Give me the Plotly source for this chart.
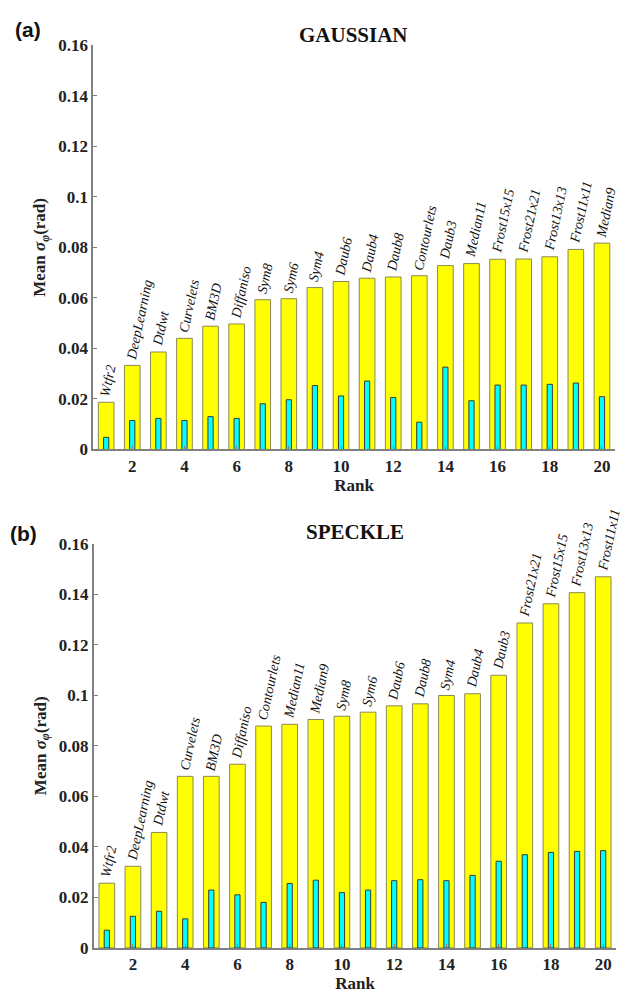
import plotly.graph_objects as go

rank = list(range(1, 21))

gauss_names = ["Wtfr2", "DeepLearning", "Dtdwt", "Curvelets", "BM3D", "Diffaniso",
               "Sym8", "Sym6", "Sym4", "Daub6", "Daub4", "Daub8", "Contourlets",
               "Daub3", "Median11", "Frost15x15", "Frost21x21", "Frost13x13",
               "Frost11x11", "Median9"]
gauss_mean = [0.0187, 0.0333, 0.0386, 0.0440, 0.0488, 0.0497, 0.0593, 0.0597, 0.0641,
              0.0665, 0.0678, 0.0683, 0.0688, 0.0728, 0.0736, 0.0753, 0.0754, 0.0763,
              0.0792, 0.0817]
gauss_std = [0.0048, 0.0115, 0.0123, 0.0115, 0.0130, 0.0123, 0.0181, 0.0197, 0.0253,
             0.0212, 0.0271, 0.0206, 0.0108, 0.0326, 0.0193, 0.0255, 0.0255, 0.0258,
             0.0263, 0.0209]

speck_names = ["Wtfr2", "DeepLearning", "Dtdwt", "Curvelets", "BM3D", "Diffaniso",
               "Contourlets", "Median11", "Median9", "Sym8", "Sym6", "Daub6", "Daub8",
               "Sym4", "Daub4", "Daub3", "Frost21x21", "Frost15x15", "Frost13x13",
               "Frost11x11"]
speck_mean = [0.0256, 0.0323, 0.0457, 0.0679, 0.0679, 0.0727, 0.0878, 0.0885, 0.0904,
              0.0917, 0.0933, 0.0958, 0.0966, 0.0999, 0.1006, 0.1079, 0.1286, 0.1362,
              0.1406, 0.1469]
speck_std = [0.0070, 0.0125, 0.0145, 0.0115, 0.0229, 0.0210, 0.0180, 0.0255, 0.0268,
             0.0219, 0.0229, 0.0266, 0.0270, 0.0266, 0.0287, 0.0343, 0.0369, 0.0378,
             0.0382, 0.0385]

ytick_vals = [0, 0.02, 0.04, 0.06, 0.08, 0.1, 0.12, 0.14, 0.16]
ytick_text = ["0", "0.02", "0.04", "0.06", "0.08", "0.1", "0.12", "0.14", "0.16"]
xtick_vals = [2, 4, 6, 8, 10, 12, 14, 16, 18, 20]

SERIF = "Liberation Serif"
YELLOW = "#FFFF00"
CYAN = "#00FFFF"

fig = go.Figure()

panels = [
    ("x", "y", gauss_names, gauss_mean, gauss_std),
    ("x2", "y2", speck_names, speck_mean, speck_std),
]
for xa, ya, names, mean, std in panels:
    fig.add_trace(go.Bar(x=rank, y=mean, width=0.6, xaxis=xa, yaxis=ya,
                         marker=dict(color=YELLOW, line=dict(color="#8a8a55", width=1)),
                         showlegend=False, hoverinfo="skip"))
    fig.add_trace(go.Bar(x=rank, y=std, width=0.2, xaxis=xa, yaxis=ya,
                         marker=dict(color=CYAN, line=dict(color="#3a3a3a", width=1)),
                         showlegend=False, hoverinfo="skip"))
    for r, n, v in zip(rank, names, mean):
        fig.add_annotation(x=r, y=v, xref=xa, yref=ya, text="<i>" + n + "</i>",
                           showarrow=False,
                           textangle=-78, xanchor="left", yanchor="bottom",
                           yshift=2, xshift=-11,
                           font=dict(family=SERIF, size=14, color="#111111"))

axis_common = dict(showline=True, linecolor="#808080", linewidth=1.5, mirror=False,
                   showgrid=False, zeroline=False, ticks="inside", ticklen=4,
                   tickcolor="#808080",
                   tickfont=dict(family=SERIF, size=17, color="#222222", weight="bold"))

ytitle = "Mean <i>σ</i><sub><i>φ</i></sub>(rad)"
xtitle = "Rank"
title_font = dict(family=SERIF, size=17, color="#222222", weight="bold")

fig.update_layout(
    width=625, height=1004,
    margin=dict(l=0, r=0, t=0, b=0),
    paper_bgcolor="white", plot_bgcolor="white",
    barmode="overlay",
    xaxis=dict(domain=[0.149, 0.984], range=[0.5, 20.5], anchor="y",
               tickvals=xtick_vals,
               title=dict(text=xtitle, font=title_font, standoff=0),
               **axis_common),
    yaxis=dict(domain=[0.5528, 0.9631], range=[0, 0.16], anchor="x",
               tickvals=ytick_vals, ticktext=ytick_text,
               title=dict(text=ytitle, font=title_font, standoff=8),
               **axis_common),
    xaxis2=dict(domain=[0.150, 0.986], range=[0.5, 20.5], anchor="y2",
                tickvals=xtick_vals,
                title=dict(text=xtitle, font=title_font, standoff=0),
                **axis_common),
    yaxis2=dict(domain=[0.0468, 0.4572], range=[0, 0.16], anchor="x2",
                tickvals=ytick_vals, ticktext=ytick_text,
                title=dict(text=ytitle, font=title_font, standoff=8),
                **axis_common),
)

# panel titles
fig.add_annotation(x=0.566, y=1 - 27 / 1004, xref="paper", yref="paper",
                   text="GAUSSIAN", showarrow=False, xanchor="center", yanchor="middle",
                   font=dict(family=SERIF, size=21, color="#111111", weight="bold"))
fig.add_annotation(x=0.568, y=1 - 533 / 1004, xref="paper", yref="paper",
                   text="SPECKLE", showarrow=False, xanchor="center", yanchor="middle",
                   font=dict(family=SERIF, size=21, color="#111111", weight="bold"))
# panel letters
fig.add_annotation(x=28 / 625, y=1 - 21 / 1004, xref="paper", yref="paper",
                   text="(a)", showarrow=False, xanchor="center", yanchor="middle",
                   font=dict(family="Liberation Sans", size=21, color="#111111", weight="bold"))
fig.add_annotation(x=24 / 625, y=1 - 535 / 1004, xref="paper", yref="paper",
                   text="(b)", showarrow=False, xanchor="center", yanchor="middle",
                   font=dict(family="Liberation Sans", size=21, color="#111111", weight="bold"))

fig.write_html("out.html")
